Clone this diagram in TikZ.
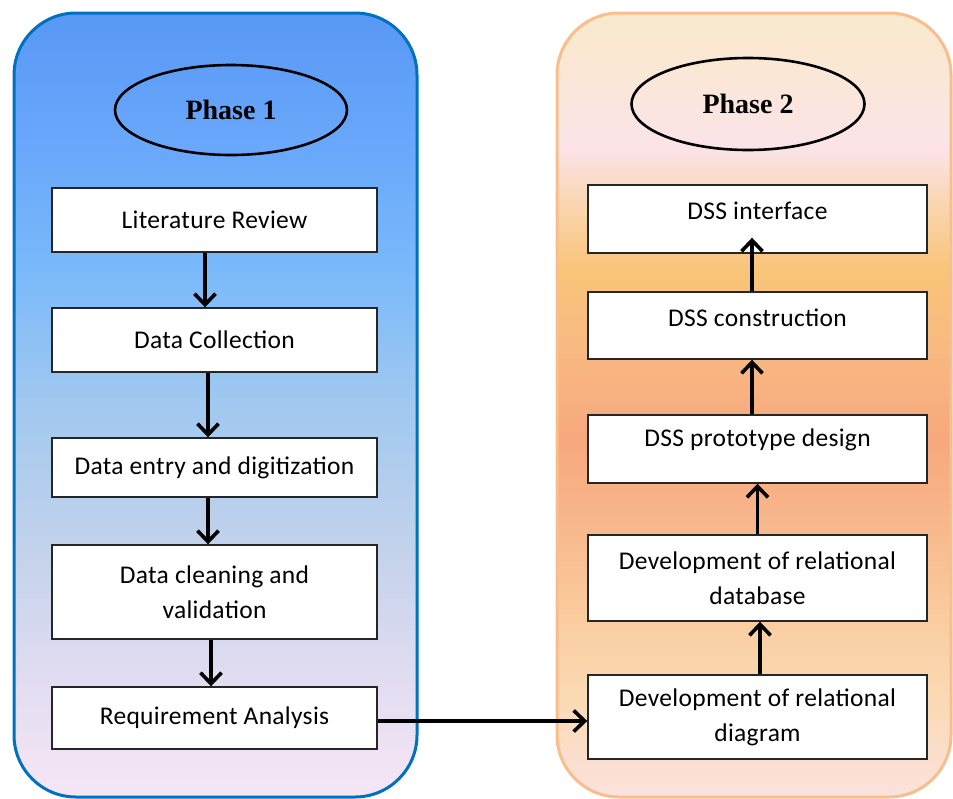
\documentclass[tikz,border=0pt]{standalone}
\usepackage{fontspec}
\setmainfont{Carlito}[LetterSpace=1.2]
\newfontfamily\phasefont{Liberation Serif}
\usetikzlibrary{arrows.meta,shapes.geometric}

\definecolor{p1a}{RGB}{245,230,245}
\definecolor{p1b}{RGB}{230,222,242}
\definecolor{p1c}{RGB}{195,210,235}
\definecolor{p1d}{RGB}{160,200,240}
\definecolor{p1e}{RGB}{122,185,250}
\definecolor{p1f}{RGB}{105,168,250}
\definecolor{p1g}{RGB}{88,152,246}

\definecolor{p2a}{RGB}{252,226,222}
\definecolor{p2b}{RGB}{250,218,180}
\definecolor{p2c}{RGB}{250,205,160}
\definecolor{p2d}{RGB}{248,182,140}
\definecolor{p2e}{RGB}{247,168,125}
\definecolor{p2f}{RGB}{248,185,130}
\definecolor{p2g}{RGB}{249,196,120}
\definecolor{p2h}{RGB}{250,215,180}
\definecolor{p2i}{RGB}{251,227,232}
\definecolor{p2j}{RGB}{250,232,212}
\definecolor{p2k}{RGB}{249,233,205}

\definecolor{oneborder}{RGB}{0,112,192}
\definecolor{twoborder}{RGB}{248,190,142}

% panel backgrounds (stops 25bp = bottom edge, 75bp = top edge)
\pgfdeclareverticalshading{phaseoneshade}{100bp}{%
  color(0bp)=(p1a); color(25bp)=(p1a); color(31.2bp)=(p1b); color(40.8bp)=(p1c);
  color(50.3bp)=(p1d); color(58.6bp)=(p1e); color(66.3bp)=(p1f);
  color(75bp)=(p1g); color(100bp)=(p1g)}
\pgfdeclareverticalshading{phasetwoshade}{100bp}{%
  color(0bp)=(p2a); color(25bp)=(p2a); color(31.2bp)=(p2b); color(36.3bp)=(p2c);
  color(42.7bp)=(p2d); color(47.8bp)=(p2e); color(53.5bp)=(p2f); color(58.6bp)=(p2g);
  color(63.1bp)=(p2h); color(66.3bp)=(p2i); color(72bp)=(p2j);
  color(75bp)=(p2k); color(100bp)=(p2k)}

\tikzset{
  panel/.style={rounded corners=62pt, line width=3pt},
  phaseoval/.style={ellipse, draw=black, line width=2.6pt, inner sep=0pt,
    font=\phasefont\bfseries\fontsize{28}{32}\selectfont},
  stepbox/.style={rectangle, draw=black!85, line width=1.4pt, fill=white,
    inner sep=0pt, align=center, font=\fontsize{25.5}{35}\selectfont},
  leftbox/.style={stepbox, minimum width=325pt},
  rightbox/.style={stepbox, minimum width=339pt},
  flow/.style={line width=3.6pt, -{Straight Barb[length=11pt,width=21pt,line width=3.6pt]}}
}

\begin{document}
\begin{tikzpicture}[x=1pt,y=-1pt]
  \useasboundingbox (0,0) rectangle (953,798);

  % the two phase panels
  \path[panel, shading=phaseoneshade, draw=oneborder] (14,13) rectangle (417,797);
  \path[panel, shading=phasetwoshade, draw=twoborder] (557,13) rectangle (951,797);

  % phase titles
  \node[phaseoval, minimum width=232pt, minimum height=90pt] (ph1) at (231,110) {Phase 1};
  \node[phaseoval, minimum width=233pt, minimum height=92pt] (ph2) at (748,104) {Phase 2};

  % phase 1 steps
  \node[leftbox, minimum height=64pt] (lit)  at (214.5,220)   {Literature Review};
  \node[leftbox, minimum height=64pt] (col)  at (214.5,340)   {Data Collection};
  \node[leftbox, minimum height=59pt] (ent)  at (214.5,467.5) {Data entry and digitization};
  \node[leftbox, minimum height=94pt] (cln)  at (214.5,592)   {Data cleaning and\\validation};
  \node[leftbox, minimum height=62pt] (req)  at (214.5,718)   {Requirement Analysis};

  % phase 2 steps
  \node[rightbox, minimum height=68pt] (ifc) at (757.5,219)   {\raisebox{8pt}[\height][\depth]{DSS interface}};
  \node[rightbox, minimum height=67pt] (con) at (757.5,325.5) {\raisebox{8pt}[\height][\depth]{DSS construction}};
  \node[rightbox, minimum height=68pt] (pro) at (757.5,449)   {\raisebox{9pt}[\height][\depth]{DSS prototype design}};
  \node[rightbox, minimum height=86pt] (rdb) at (757.5,578)   {Development of relational\\database};
  \node[rightbox, minimum height=84pt] (rdg) at (757.5,717)   {Development of relational\\diagram};

  % phase 1 flow (downwards)
  \draw[flow] ([xshift=-9.5pt]lit.south) -- ([xshift=-9.5pt]col.north);
  \draw[flow] ([xshift=-6.5pt]col.south) -- ([xshift=-6.5pt]ent.north);
  \draw[flow] ([xshift=-6.5pt]ent.south) -- ([xshift=-6.5pt]cln.north);
  \draw[flow] ([xshift=-3.5pt]cln.south) -- ([xshift=-3.5pt]req.north);

  % hand-over between phases
  \draw[flow] ([yshift=-3pt]req.east) -- ([yshift=-3pt]req.east -| rdg.west);

  % phase 2 flow (upwards)
  \draw[flow] ([xshift=2.5pt]rdg.north) -- ([xshift=2.5pt]rdb.south);
  \draw[flow] (rdb.north) -- (pro.south);
  \draw[flow] ([xshift=-5.5pt]pro.north) -- ([xshift=-5.5pt]con.south);
  \draw[flow, shorten >=-16pt] ([xshift=-5.5pt]con.north) -- ([xshift=-5.5pt]ifc.south);
\end{tikzpicture}
\end{document}
